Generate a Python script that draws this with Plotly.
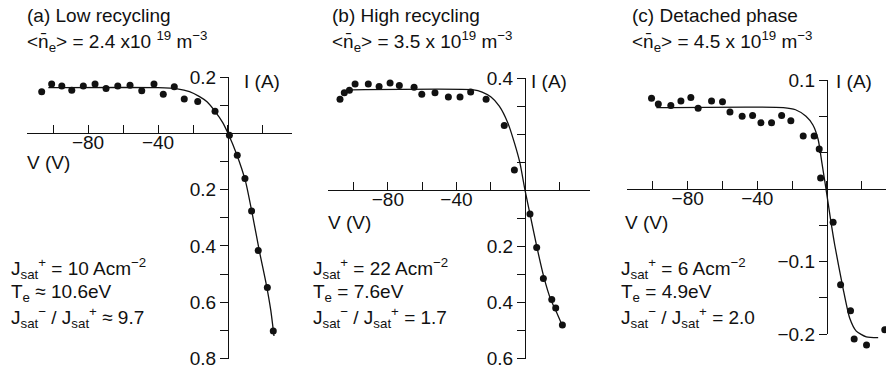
import plotly.graph_objects as go

W, H = 886, 370
FONT = "Liberation Sans, Arial, sans-serif"
INK = "#111111"
FS = 19

# ---------------- data ----------------
# (a) Low recycling
V_a = [-106.5, -100.8, -95.0, -89.3, -82.7, -76.0, -69.7, -63.0, -56.0, -49.3, -42.3, -37.0,
       -30.7, -25.0, -17.3, -7.4, 0.8, 5.3, 9.7, 13.5, 17.3, 22.5, 25.9]
I_a = [0.148, 0.175, 0.168, 0.153, 0.168, 0.175, 0.159, 0.168, 0.171, 0.151, 0.175, 0.139,
       0.165, 0.122, 0.113, 0.078, -0.007, -0.078, -0.161, -0.276, -0.416, -0.548, -0.702]
Vfit_a = [-102.7, -40, -29, -22, -16.5, -12, -7.4, -3, 0, 5, 10, 14, 18, 22, 24.5, 26.3]
Ifit_a = [0.162, 0.162, 0.158, 0.148, 0.131, 0.112, 0.078, 0.038, 0.0, -0.075, -0.17,
          -0.29, -0.42, -0.54, -0.63, -0.72]

# (b) High recycling
V_b = [-107.9, -105.4, -102.4, -99.1, -91.4, -85.1, -78.7, -73.3, -64.7, -60.2, -52.5, -44.7,
       -37.9, -31.7, -22.7, -12.1, -6.2, 2.9, 6.8, 10.7, 15.6, 17.9, 21.8]
I_b = [0.324, 0.347, 0.356, 0.379, 0.379, 0.370, 0.382, 0.373, 0.367, 0.342, 0.347, 0.332,
       0.332, 0.350, 0.324, 0.231, 0.072, -0.085, -0.204, -0.315, -0.390, -0.420, -0.481]
Vfit_b = [-101, -30, -25, -20, -15, -10, -6, -3, 0, 3, 7, 11, 15, 18, 22.3]
Ifit_b = [0.358, 0.358, 0.350, 0.333, 0.300, 0.240, 0.165, 0.098, 0.0, -0.088, -0.205,
          -0.31, -0.39, -0.43, -0.49]

# (c) Detached phase
V_c = [-100.8, -96.9, -89.7, -83.9, -78.2, -74.0, -66.3, -60.0, -55.7, -48.7, -42.7, -37.9,
       -31.8, -26.0, -20.7, -13.6, -7.3, -4.4, -3.6, 3.6, 7.9, 13.6, 15.7, 22.8, 33.3]
I_c = [0.125, 0.117, 0.115, 0.121, 0.126, 0.111, 0.121, 0.120, 0.106, 0.100, 0.101, 0.091,
       0.091, 0.101, 0.094, 0.073, 0.073, 0.055, 0.015, -0.046, -0.132, -0.168, -0.207,
       -0.215, -0.194]
Vfit_c = [-98, -25, -18, -12, -8, -5, -2.8, -0.5, 2, 4.5, 9.3, 13.1, 16.9, 22.7, 29.5]
Ifit_c = [0.112, 0.112, 0.109, 0.100, 0.088, 0.068, 0.035, 0.0, -0.04, -0.077, -0.137,
          -0.178, -0.196, -0.204, -0.205]

# tick definitions (labelled ticks, and plain ticks without labels)
xticks = [-80, -40]
xticktext = ["−80", "−40"]
xminor = [-100, -60, -20, 0, 20]

yticks_a = [0.2, -0.2, -0.4, -0.6, -0.8]
yticktext_a = ["0.2", "0.2", "0.4", "0.6", "0.8"]
yminor_a = [0.1, -0.1, -0.3, -0.5, -0.7]
yticks_b = [0.4, -0.2, -0.4, -0.6]
yticktext_b = ["0.4", "0.2", "0.4", "0.6"]
yminor_b = [0.3, 0.2, 0.1, -0.1, -0.3, -0.5]
yticks_c = [0.15, -0.10, -0.20]
yticktext_c = ["0.1", "−0.1", "−0.2"]
yminor_c = [0.10, 0.05, -0.05, -0.15]

titles = ["(a) Low recycling", "(b) High recycling", "(c) Detached phase"]
dens = ["&lt;n\u0304<sub>e</sub>&gt; = 2.4 x10 <sup>19</sup> m<sup>−3</sup>",
        "&lt;n\u0304<sub>e</sub>&gt; = 3.5 x 10<sup>19</sup> m<sup>−3</sup>",
        "&lt;n\u0304<sub>e</sub>&gt; = 4.5 x 10<sup>19</sup> m<sup>−3</sup>"]
jsat = ["10", "22", "6"]
te = ["10.6", "7.6", "4.9"]
ratio = ["9.7", "1.7", "2.0"]
eq2 = ["≈", "=", "="]

# ---------------- layout geometry (pixels) ----------------
panels = [
    dict(V=V_a, I=I_a, Vf=Vfit_a, If=Ifit_a, xpx=(27, 292), xr=(-114.9, 36.6),
         ypx=(77, 358.5), yr=(-0.8, 0.2), yt=yticks_a, ytt=yticktext_a, ym=yminor_a,
         tx=25, iax=242, vx=25, vy=163, jx=9),
    dict(V=V_b, I=I_b, Vf=Vfit_b, If=Ifit_b, xpx=(328, 590), xr=(-114.9, 37.9),
         ypx=(78, 358.5), yr=(-0.6, 0.4), yt=yticks_b, ytt=yticktext_b, ym=yminor_b,
         tx=330, iax=529, vx=326, vy=223, jx=311),
    dict(V=V_c, I=I_c, Vf=Vfit_c, If=Ifit_c, xpx=(627, 886), xr=(-114.9, 34.0),
         ypx=(80, 334), yr=(-0.2, 0.15), yt=yticks_c, ytt=yticktext_c, ym=yminor_c,
         tx=630, iax=834, vx=623, vy=223, jx=619),
]

fig = go.Figure()
layout = dict(width=W, height=H, margin=dict(l=0, r=0, t=0, b=0, autoexpand=False),
              paper_bgcolor="white", plot_bgcolor="rgba(0,0,0,0)",
              showlegend=False, font=dict(family=FONT, size=FS, color=INK))
annotations = []

def px2x(p):
    return p / W

def py2y(p):
    return 1 - p / H

for k, p in enumerate(panels):
    n = "" if k == 0 else str(k + 1)
    xa, ya = "x" + n, "y" + n
    xd = [px2x(p["xpx"][0]), px2x(p["xpx"][1])]
    yd = [py2y(p["ypx"][1]), py2y(p["ypx"][0])]
    # hidden companion y axis with identical scale, extended to the page bottom,
    # so markers just below the drawn axis end are still shown
    mk_axis = "yaxis" + str(k + 4)
    mk_ref = "y" + str(k + 4)
    upp = (p["yr"][1] - p["yr"][0]) / (p["ypx"][1] - p["ypx"][0])
    ext_lo = p["yr"][1] - (H - p["ypx"][0]) * upp
    layout[mk_axis] = dict(domain=[0, yd[1]], range=[ext_lo, p["yr"][1]], visible=False,
                           anchor=xa, fixedrange=True)

    fig.add_trace(go.Scatter(x=p["Vf"], y=p["If"], mode="lines", xaxis=xa, yaxis=mk_ref,
                             line=dict(color=INK, width=1.3, shape="spline", smoothing=0.6),
                             cliponaxis=False, hoverinfo="skip"))
    fig.add_trace(go.Scatter(x=p["V"], y=p["I"], mode="markers", xaxis=xa, yaxis=mk_ref,
                             marker=dict(color=INK, size=7), cliponaxis=False))
    # an empty trace so the visible axes are drawn
    fig.add_trace(go.Scatter(x=[None], y=[None], xaxis=xa, yaxis=ya, mode="markers",
                             hoverinfo="skip"))

    x0 = xd[0] + (0 - p["xr"][0]) / (p["xr"][1] - p["xr"][0]) * (xd[1] - xd[0])
    y0 = yd[0] + (0 - p["yr"][0]) / (p["yr"][1] - p["yr"][0]) * (yd[1] - yd[0])
    layout["xaxis" + n] = dict(domain=xd, range=list(p["xr"]), anchor="free", position=y0,
                               showgrid=False, zeroline=False, showline=True,
                               linecolor=INK, linewidth=1.2, ticks="inside", ticklen=8,
                               tickwidth=1.2, tickcolor=INK, tickmode="array",
                               tickvals=xticks, ticktext=xticktext,
                               minor=dict(tickmode="array", tickvals=xminor, ticks="inside",
                                          ticklen=8, tickwidth=1.2, tickcolor=INK,
                                          showgrid=False),
                               tickfont=dict(size=FS, family=FONT),
                               ticklabelstandoff=-8, ticklabeloverflow="allow",
                               fixedrange=True, automargin=False)
    layout["yaxis" + n] = dict(domain=yd, range=list(p["yr"]), anchor="free", position=x0,
                               showgrid=False, zeroline=False, showline=True,
                               linecolor=INK, linewidth=1.2, ticks="outside", ticklen=8,
                               tickwidth=1.2, tickcolor=INK, tickmode="array",
                               tickvals=p["yt"], ticktext=p["ytt"],
                               minor=dict(tickmode="array", tickvals=p["ym"], ticks="outside",
                                          ticklen=8, tickwidth=1.2, tickcolor=INK,
                                          showgrid=False),
                               tickfont=dict(size=FS, family=FONT),
                               ticklabeloverflow="allow",
                               fixedrange=True, automargin=False)

    def ann(text, x, y, xanchor="left"):
        annotations.append(dict(text=text, x=px2x(x), y=py2y(y), xref="paper", yref="paper",
                                xanchor=xanchor, yanchor="middle", showarrow=False,
                                font=dict(size=FS, family=FONT, color=INK)))
    ann(titles[k], p["tx"], 15)
    ann(dens[k], p["tx"], 42)
    ann("I (A)", p["iax"], 81)
    ann("V (V)", p["vx"], p["vy"])
    ann("J<sub>sat</sub><sup>+</sup> = " + jsat[k] + " Acm<sup>−2</sup>", p["jx"], 268)
    ann("T<sub>e</sub> " + eq2[k] + " " + te[k] + "eV", p["jx"], 293)
    ann("J<sub>sat</sub><sup>−</sup> / J<sub>sat</sub><sup>+</sup> " + eq2[k] + " " + ratio[k],
        p["jx"], 317)

layout["annotations"] = annotations
fig.update_layout(**layout)
fig.write_html("out.html", config={"displayModeBar": False},
               post_script="document.body.style.margin='0';document.body.style.overflow='hidden';")
